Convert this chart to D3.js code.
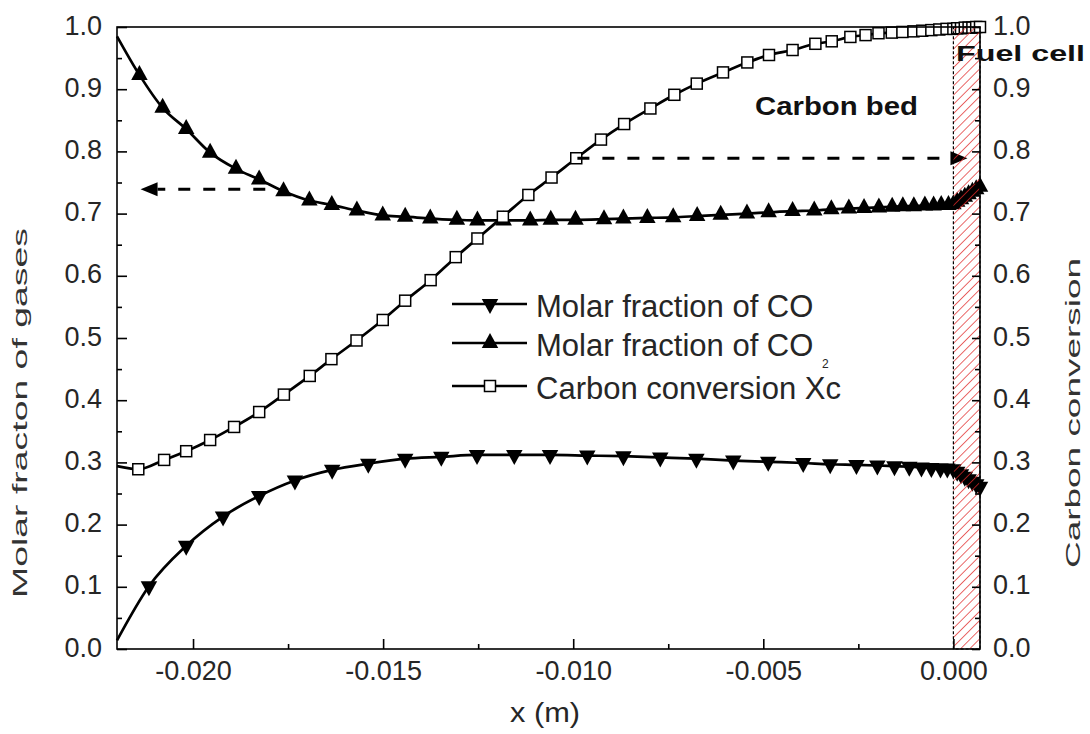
<!DOCTYPE html>
<html><head><meta charset="utf-8">
<script src="https://cdn.jsdelivr.net/npm/d3@7"></script>
<style>body{margin:0;background:#fff}svg{display:block}</style>
</head><body>
<svg id="c" width="1090" height="734"></svg>
<script>
// ---------- data ----------
const coX = [-0.02200,-0.02116,-0.02018,-0.01921,-0.01826,-0.01732,-0.01634,-0.01539,-0.01442,-0.01347,-0.01253,-0.01155,-0.01061,-0.00963,-0.00868,-0.00771,-0.00676,-0.00579,-0.00487,-0.00395,-0.00324,-0.00255,-0.00200,-0.00155,-0.00116,-0.00084,-0.00058,-0.00034,-0.00016,0.00000,0.0001,0.0002,0.0003,0.0004,0.0005,0.0006,0.0007];
const coY = [0.014,0.101,0.166,0.213,0.246,0.271,0.288,0.298,0.306,0.309,0.312,0.312,0.312,0.311,0.310,0.308,0.306,0.303,0.301,0.299,0.297,0.296,0.295,0.294,0.293,0.292,0.291,0.290,0.290,0.289,0.285,0.281,0.277,0.273,0.269,0.265,0.261];

const co2X = [-0.02200,-0.02141,-0.02080,-0.02018,-0.01955,-0.01887,-0.01826,-0.01762,-0.01694,-0.01635,-0.01569,-0.01501,-0.01442,-0.01376,-0.01306,-0.01252,-0.01183,-0.01113,-0.01059,-0.00994,-0.00919,-0.00868,-0.00805,-0.00737,-0.00674,-0.00612,-0.00543,-0.00486,-0.00423,-0.00366,-0.00321,-0.00275,-0.00235,-0.00196,-0.00161,-0.00133,-0.00104,-0.00075,-0.00052,-0.00032,-0.00013,0.00000,0.0001,0.0002,0.0003,0.0004,0.0005,0.0006,0.0007];
const co2Y = [0.985,0.923,0.870,0.836,0.798,0.772,0.755,0.736,0.721,0.714,0.705,0.697,0.695,0.692,0.690,0.689,0.689,0.689,0.690,0.690,0.691,0.692,0.693,0.694,0.696,0.698,0.700,0.702,0.704,0.705,0.707,0.708,0.709,0.710,0.711,0.712,0.712,0.713,0.713,0.714,0.714,0.715,0.719,0.723,0.727,0.731,0.735,0.739,0.743];

const xcX = [-0.02200,-0.02144,-0.02076,-0.02018,-0.01955,-0.01892,-0.01826,-0.01761,-0.01693,-0.01636,-0.01570,-0.01501,-0.01442,-0.01375,-0.01309,-0.01252,-0.01185,-0.01118,-0.01057,-0.00992,-0.00927,-0.00866,-0.00797,-0.00734,-0.00675,-0.00606,-0.00542,-0.00485,-0.00423,-0.00363,-0.00320,-0.00271,-0.00231,-0.00197,-0.00162,-0.00134,-0.00105,-0.00082,-0.00058,-0.00037,-0.00018,0.00000,0.0001,0.0002,0.0003,0.0004,0.0005,0.0006,0.0007];
const xcY = [0.294,0.289,0.304,0.318,0.336,0.357,0.381,0.409,0.439,0.466,0.496,0.529,0.560,0.593,0.630,0.660,0.695,0.730,0.758,0.789,0.819,0.844,0.869,0.891,0.909,0.927,0.943,0.955,0.963,0.973,0.977,0.984,0.987,0.990,0.991,0.992,0.993,0.994,0.995,0.996,0.997,0.997,0.998,0.998,0.999,0.999,0.999,1.000,1.000];

const xTicks = [-0.020,-0.015,-0.010,-0.005,0.000];
const xMinor = [-0.0175,-0.0125,-0.0075,-0.0025];
const yTicks = [0,0.1,0.2,0.3,0.4,0.5,0.6,0.7,0.8,0.9,1.0];
const yMinor = [0.05,0.15,0.25,0.35,0.45,0.55,0.65,0.75,0.85,0.95];
const legendLabels = ["Molar fraction of CO","Molar fraction of CO","Carbon conversion Xc"];
const arrowLeft = {x0:-0.01810, x1:-0.02138, y:0.739};
const arrowRight = {x0:-0.00989, x1:0.00037, y:0.789};
const fuelCell = [0.0, 0.0007];

// ---------- layout ----------
const L=117, R=980, T=27, B=649;
const svg = d3.select("#c");
const x = d3.scaleLinear().domain([-0.022,0.0007]).range([L,R]);
const y = d3.scaleLinear().domain([0,1]).range([B,T]);
const FONT = "'Liberation Sans', Arial, sans-serif";
const TXT = "#262626";

// curves
const line = d3.line().x(d=>x(d[0])).y(d=>y(d[1])).curve(d3.curveMonotoneX);
const ser = [
  {xs:coX, ys:coY, m:"down"},
  {xs:co2X, ys:co2Y, m:"up"},
  {xs:xcX, ys:xcY, m:"sq"}
];
const tw=16.5, th=15;
function tri(up){ // centroid-centred
  const a=2*th/3, b=th/3;
  return up ? `M0,${-a}L${tw/2},${b}L${-tw/2},${b}Z` : `M0,${a}L${tw/2},${-b}L${-tw/2},${-b}Z`;
}
function marker(g, type, px, py){
  if(type==="sq"){
    g.append("rect").attr("x",px-5.5).attr("y",py-5.5).attr("width",11).attr("height",11)
      .attr("fill","#fff").attr("stroke","#000").attr("stroke-width",1.5);
  } else {
    g.append("path").attr("d",tri(type==="up")).attr("transform",`translate(${px},${py})`).attr("fill","#000");
  }
}
const gPlot = svg.append("g");
ser.forEach(s=>{
  const pts = s.xs.map((v,i)=>[v,s.ys[i]]);
  gPlot.append("path").datum(pts).attr("d",line).attr("fill","none").attr("stroke","#000").attr("stroke-width",2.7);
  const gm = gPlot.append("g");
  pts.slice(1).forEach(p=>marker(gm,s.m,x(p[0]),y(p[1])));
});

// dashed arrows
function arrow(a, dir){
  const yy=y(a.y), tip=x(a.x1), base=tip - dir*17;
  svg.append("line").attr("x1",x(a.x0)).attr("x2",base).attr("y1",yy).attr("y2",yy)
    .attr("stroke","#000").attr("stroke-width",3).attr("stroke-dasharray","12,13");
  svg.append("path").attr("d",`M${tip},${yy}L${base},${yy-7}L${base},${yy+7}Z`).attr("fill","#000");
}
arrow(arrowLeft,-1);
arrow(arrowRight,1);

// fuel cell hatch
const defs = svg.append("defs");
const pat = defs.append("pattern").attr("id","hatch").attr("patternUnits","userSpaceOnUse")
  .attr("width",6.5).attr("height",6.5).attr("patternTransform","rotate(45)");
pat.append("line").attr("x1",0).attr("y1",0).attr("x2",0).attr("y2",6.5).attr("stroke","#e02828").attr("stroke-width",1.4);
const fx0=x(fuelCell[0]), fx1=x(fuelCell[1]);
svg.append("rect").attr("x",fx0).attr("y",T).attr("width",fx1-fx0).attr("height",B-T).attr("fill","url(#hatch)");
svg.append("rect").attr("x",fx0).attr("y",T).attr("width",fx1-fx0).attr("height",B-T)
  .attr("fill","none").attr("stroke","#000").attr("stroke-width",1.2).attr("stroke-dasharray","3,2");

// axes
const fmtX = d=>d.toFixed(3);
const fmtY = d=>d.toFixed(1);
function styleAxis(g){
  g.select(".domain").remove();
  g.selectAll(".tick line").attr("stroke","#000").attr("stroke-width",1.6);
  g.selectAll("text").attr("font-family",FONT).attr("font-size",27).attr("fill",TXT);
}
svg.append("g").attr("transform",`translate(0,${B})`)
  .call(d3.axisBottom(x).tickValues(xTicks).tickFormat(fmtX).tickSizeInner(-10).tickSizeOuter(0).tickPadding(12))
  .call(styleAxis);
svg.append("g").attr("transform",`translate(0,${B})`)
  .call(d3.axisBottom(x).tickValues(xMinor).tickFormat("").tickSizeInner(-5).tickSizeOuter(0)).call(styleAxis);
svg.append("g").attr("transform",`translate(${L},0)`)
  .call(d3.axisLeft(y).tickValues(yTicks).tickFormat(fmtY).tickSizeInner(-10).tickSizeOuter(0).tickPadding(15))
  .call(styleAxis).selectAll("text").attr("dy","0.26em");
svg.append("g").attr("transform",`translate(${L},0)`)
  .call(d3.axisLeft(y).tickValues(yMinor).tickFormat("").tickSizeInner(-5).tickSizeOuter(0)).call(styleAxis);
svg.append("g").attr("transform",`translate(${R},0)`)
  .call(d3.axisRight(y).tickValues(yTicks).tickFormat(fmtY).tickSizeInner(-8).tickSizeOuter(0).tickPadding(13))
  .call(styleAxis).selectAll("text").attr("dy","0.26em");
svg.append("g").attr("transform",`translate(${R},0)`)
  .call(d3.axisRight(y).tickValues(yMinor).tickFormat("").tickSizeInner(-5).tickSizeOuter(0)).call(styleAxis);

// frame
svg.append("rect").attr("x",L).attr("y",T).attr("width",R-L).attr("height",B-T)
  .attr("fill","none").attr("stroke","#000").attr("stroke-width",1.6);

// titles
function text(x0,y0,s,o={}){
  const t = svg.append("text").attr("font-family",FONT).attr("font-size",o.size||26)
    .attr("fill",o.fill||TXT).attr("text-anchor",o.anchor||"start")
    .attr("font-weight",o.bold?"bold":"normal").text(s);
  if(o.rot){ t.attr("transform",`translate(${x0},${y0}) rotate(${o.rot})`); }
  else { t.attr("x",x0).attr("y",y0); }
  if(o.len){ t.attr("textLength",o.len).attr("lengthAdjust","spacingAndGlyphs"); }
  return t;
}
text(545,722,"x (m)",{anchor:"middle",size:27,len:70});
text(27,413,"Molar fracton of gases",{anchor:"middle",size:21,rot:-90,len:370,fill:"#333"});
text(1080,413,"Carbon conversion",{anchor:"middle",size:21,rot:-90,len:310,fill:"#333"});
text(755,115,"Carbon bed",{size:26,bold:true,fill:"#111",len:163});
text(956,60.5,"Fuel cell",{size:22.5,bold:true,fill:"#111",len:129});

// legend
const legY = [304,343,386];
const legM = ["down","up","sq"];
legY.forEach((ly,i)=>{
  svg.append("line").attr("x1",452).attr("x2",527).attr("y1",ly).attr("y2",ly).attr("stroke","#000").attr("stroke-width",2.7);
  marker(svg,legM[i],490,ly);
  text(536,ly+12.5,legendLabels[i],{size:31});
});
text(822,368,"2",{size:12});
</script>
</body></html>
